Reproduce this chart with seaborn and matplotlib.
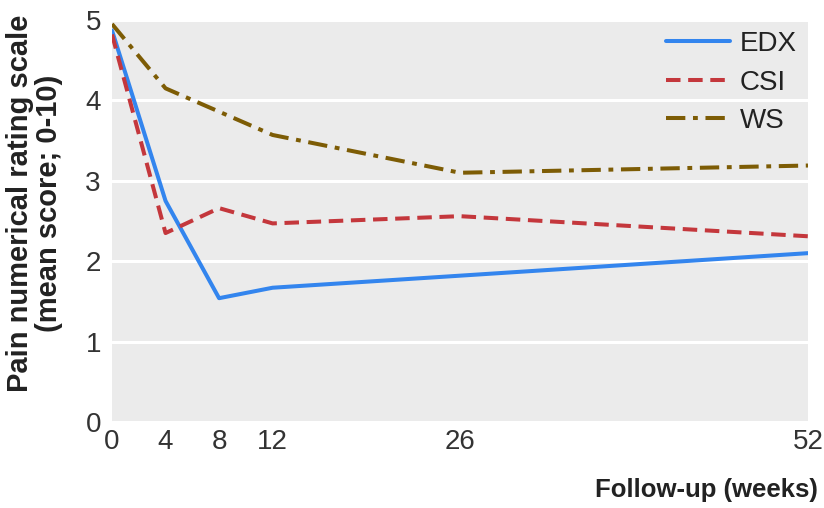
import matplotlib
matplotlib.use("Agg")
import matplotlib.pyplot as plt
import seaborn as sns
import pandas as pd

# follow-up weeks and mean pain scores
weeks = [0, 4, 8, 12, 26, 52]
edx = [4.87, 2.75, 1.54, 1.67, 1.82, 2.10]
csi = [4.82, 2.35, 2.66, 2.47, 2.56, 2.31]
ws = [4.95, 4.15, 3.86, 3.57, 3.10, 3.19]
groups = ["EDX", "CSI", "WS"]
colors = ["#3385ee", "#c4373c", "#7d5c05"]

df = pd.DataFrame({"week": weeks * 3,
                   "score": edx + csi + ws,
                   "group": [g for g in groups for _ in weeks]})

sns.set_theme(style="darkgrid", rc={"axes.facecolor": "#ebebeb",
                                    "grid.color": "white",
                                    "grid.linewidth": 2.2})
plt.rcParams["font.family"] = ["Liberation Sans", "DejaVu Sans"]

fig = plt.figure(figsize=(8.24, 5.08), dpi=100)
ax = fig.add_axes([112 / 824, 86 / 508, 696 / 824, 402 / 508])

sns.lineplot(data=df, x="week", y="score", hue="group", style="group",
             palette=colors,
             dashes={"EDX": "", "CSI": (3.6, 1.9), "WS": (4.8, 1.9, 1.2, 1.9)},
             linewidth=2.9, ax=ax)

ax.set_xlim(0, 52)
ax.set_ylim(0, 5)
ax.set_xticks(weeks)
ax.set_yticks([0, 1, 2, 3, 4, 5])
ax.xaxis.grid(False)
ax.tick_params(axis="x", direction="in", length=6, width=2, color="white",
               labelsize=20, labelcolor="#333333", pad=5)
ax.tick_params(axis="y", length=0, labelsize=20, labelcolor="#333333", pad=8)
for s in ax.spines.values():
    s.set_visible(False)

ax.set_xlabel("")
ax.set_ylabel("Pain numerical rating scale\n(mean score; 0-10)", fontsize=21,
              fontweight="bold", color="#222222", linespacing=1.05)
ax.yaxis.set_label_coords(-0.07, 0.545)
fig.text(818 / 824, 1 - 490 / 508, "Follow-up (weeks)", ha="right", va="center",
         fontsize=18.5, fontweight="bold", color="#222222")

leg = ax.legend(loc="upper right", bbox_to_anchor=(1.0, 1.0), frameon=False,
                fontsize=20, handlelength=2.3, labelspacing=0.45,
                borderaxespad=0.0, handletextpad=0.35)
for t in leg.get_texts():
    t.set_color("#222222")

fig.savefig("out.png", dpi=100)
